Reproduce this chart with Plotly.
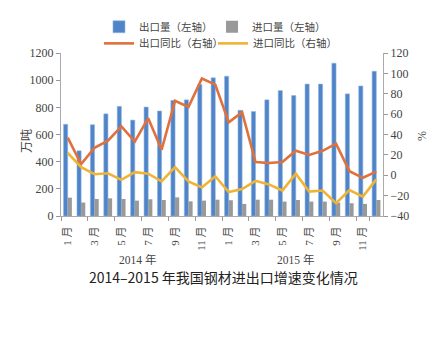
import plotly.graph_objects as go

months = [f"{y}-{m}" for y in (2014, 2015) for m in range(1, 13)]
month_labels = [f"{m} 月" for y in (2014, 2015) for m in range(1, 13)]
years = ["2014 年", "2015 年"]

export_vol = [675, 480, 672, 752, 807, 706, 802, 773, 851, 855, 969, 1017,
              1029, 778, 769, 855, 923, 887, 971, 971, 1125, 899, 957, 1065]
import_vol = [135, 99, 125, 130, 125, 113, 123, 118, 137, 108, 113, 120,
              116, 89, 120, 120, 106, 118, 106, 106, 99, 94, 89, 118]
export_yoy = [37, 11, 27, 34, 48, 33, 56, 25, 73, 67, 95, 89,
              52, 62, 13, 12, 13, 24, 20, 24, 31, 4, -2.5, 3.5]
import_yoy = [22, 8, 1, 2, -4.5, 3, 1.5, -6, 8, -6, -12, -1,
              -16.5, -13.5, -5.5, -9, -15, 1.5, -16, -15, -27.5, -14.5, -21, -4]

serif = "Liberation Serif, Noto Sans CJK SC, serif"
cjk = "Noto Sans CJK SC, sans-serif"
txt = "#444444"

fig = go.Figure()
fig.add_trace(go.Bar(x=months, y=export_vol, name="出口量（左轴）",
                     marker=dict(color="#4f84c8", line=dict(color="#8fb5e3", width=0.6)),
                     legend="legend"))
fig.add_trace(go.Bar(x=months, y=import_vol, name="进口量（左轴）",
                     marker=dict(color="#999999", line=dict(width=0)),
                     legend="legend2"))
fig.add_trace(go.Scatter(x=months, y=export_yoy, name="出口同比（右轴）", mode="lines",
                         line=dict(color="#e0703c", width=2.6), yaxis="y2",
                         legend="legend3"))
fig.add_trace(go.Scatter(x=months, y=import_yoy, name="进口同比（右轴）", mode="lines",
                         line=dict(color="#f0b435", width=2.6), yaxis="y2",
                         legend="legend4"))

tickvals = months[::2]
ticktext = month_labels[::2]


def leg(x, y):
    return dict(orientation="h", x=x, xanchor="left", y=y, yanchor="top",
                font=dict(family=cjk, size=10.5, color=txt),
                itemwidth=30, bgcolor="rgba(0,0,0,0)")


fig.update_layout(
    width=436, height=343,
    margin=dict(l=61, r=53, t=51, b=127),
    paper_bgcolor="white", plot_bgcolor="white",
    barmode="group", bargap=0.38, bargroupgap=0.0,
    font=dict(family=serif, size=12, color=txt),
    xaxis=dict(type="category", categoryorder="array", categoryarray=months,
               tickmode="array", tickvals=tickvals, ticktext=ticktext,
               tickson="boundaries", ticks="outside", ticklen=4, tickcolor="#999",
               tickangle=-90, showline=True, linecolor="#aaaaaa", linewidth=1,
               showgrid=False, tickfont=dict(family=serif, size=11, color=txt),
               ticklabelstandoff=5, automargin=False,
               range=[-0.5, 23.5]),
    yaxis=dict(range=[0, 1200], dtick=200, ticks="outside", ticklen=4, tickcolor="#999",
               showline=True, linecolor="#aaaaaa", linewidth=1, showgrid=False,
               zeroline=False, automargin=False,
               tickfont=dict(family=serif, size=12, color=txt)),
    yaxis2=dict(range=[-40, 120], dtick=20, overlaying="y", side="right",
                ticks="outside", ticklen=4, tickcolor="#999",
                showline=True, linecolor="#aaaaaa", linewidth=1, showgrid=False,
                zeroline=False, automargin=False,
                tickfont=dict(family=serif, size=12, color=txt),
                tickformat="d"),
    legend=leg(0.118, 1.25),
    legend2=leg(0.469, 1.25),
    legend3=leg(0.118, 1.148),
    legend4=leg(0.472, 1.148),
    showlegend=True,
)

annotations = [
    dict(text="万吨", x=-0.112, y=0.46, xref="paper", yref="paper", textangle=-90,
         xanchor="center", yanchor="middle",
         showarrow=False, font=dict(family=cjk, size=12, color=txt)),
    dict(text="%", x=1.121, y=0.49, xref="paper", yref="paper", textangle=-90,
         xanchor="center", yanchor="middle",
         showarrow=False, font=dict(family=serif, size=12, color=txt)),
    dict(text=years[0], x=5.2, y=-0.267, xref="x", yref="paper", showarrow=False,
         xanchor="center", yanchor="middle",
         font=dict(family=serif, size=11.5, color=txt)),
    dict(text=years[1], x=17.0, y=-0.267, xref="x", yref="paper", showarrow=False,
         xanchor="center", yanchor="middle",
         font=dict(family=serif, size=11.5, color=txt)),
    dict(text="2014–2015 年我国钢材进出口增速变化情况", x=0.505, y=-0.376,
         xref="paper", yref="paper", showarrow=False,
         xanchor="center", yanchor="middle",
         font=dict(family=cjk, size=14, color="#222222")),
]
fig.update_layout(annotations=annotations)

fig.write_html("out.html")
